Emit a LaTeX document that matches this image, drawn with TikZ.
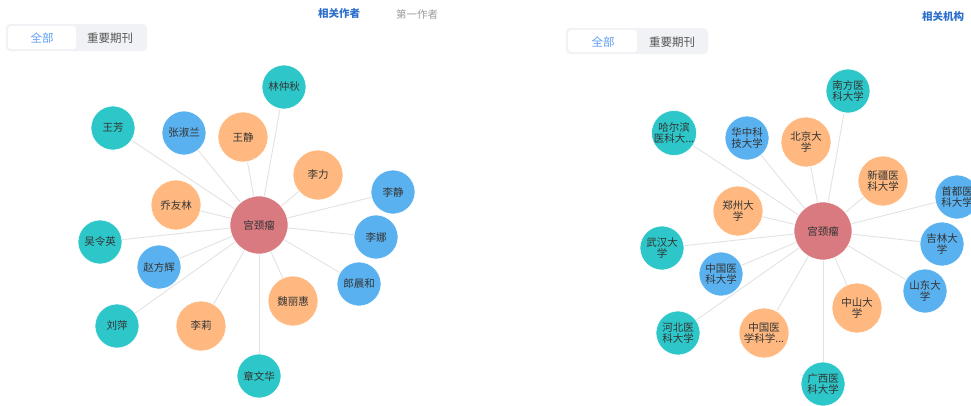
\documentclass[tikz,border=0pt]{standalone}
\usepackage{fontspec}
\setmainfont{Noto Sans CJK SC}
\usetikzlibrary{backgrounds}
\definecolor{cteal}{HTML}{2EC7C9}
\definecolor{cblue}{HTML}{5AB1EF}
\definecolor{corange}{HTML}{FFB980}
\definecolor{cred}{HTML}{D87A80}
\definecolor{cedge}{HTML}{E2E2E2}
\definecolor{ctext}{HTML}{333333}
\definecolor{ctabbg}{HTML}{F0F2F5}
\definecolor{ctabblue}{HTML}{5E9FF2}
\definecolor{ctabgray}{HTML}{555555}
\definecolor{ctitle}{HTML}{2D6FCC}
\definecolor{csub}{HTML}{9A9A9A}
\tikzset{
  bub/.style={circle, inner sep=0pt, draw=white, line width=0.6pt, align=center,
    text=ctext, font=\fontsize{10.5}{10.5}\selectfont},
  tealn/.style={bub, fill=cteal, minimum size=44pt},
  bluen/.style={bub, fill=cblue, minimum size=44pt},
  orangen/.style={bub, fill=corange, minimum size=50pt},
  centern/.style={bub, fill=cred, minimum size=58pt},
  edge/.style={draw=cedge, line width=0.9pt},
  tabouter/.style={fill=ctabbg, rounded corners=4pt},
  tabinner/.style={fill=white, rounded corners=3pt},
  tabon/.style={text=ctabblue, font=\fontsize{11.5}{12}\selectfont, inner sep=0pt},
  taboff/.style={text=ctabgray, font=\fontsize{11.5}{12}\selectfont, inner sep=0pt},
  titleon/.style={text=ctitle, font=\bfseries\fontsize{10.5}{11}\selectfont, inner sep=0pt},
  titleoff/.style={text=csub, font=\fontsize{10.5}{11}\selectfont, inner sep=0pt}
}
\begin{document}
\begin{tikzpicture}[x=1pt,y=-1pt]
\useasboundingbox (0,0) rectangle (971,405);
\clip (0,0) rectangle (971,405);
% header
\node[titleon] (t1) at (339,14) {相关作者};
\node[titleoff] (t2) at (417,14) {第一作者};
\node[titleon] (t3) at (943,17) {相关机构};
% tabs left
\fill[tabouter] (6,24) rectangle (147,51);
\fill[tabinner] (8,26) rectangle (76,49);
\node[tabon] (la) at (42,38) {全部};
\node[taboff] (lb) at (110,38) {重要期刊};
% tabs right
\fill[tabouter] (566,28) rectangle (708,54);
\fill[tabinner] (568,30) rectangle (637,52);
\node[tabon] (ra) at (603,42) {全部};
\node[taboff] (rb) at (672,42) {重要期刊};
% left graph
\node[centern] (L) at (259,225) {宫颈瘤};
\node[tealn] (L1) at (113,128) {王芳};
\node[bluen] (L2) at (184,133) {张淑兰};
\node[orangen] (L3) at (243,137) {王静};
\node[tealn] (L4) at (284,87) {林仲秋};
\node[orangen] (L5) at (318,175) {李力};
\node[bluen] (L6) at (393,192) {李静};
\node[bluen] (L7) at (376,237) {李娜};
\node[bluen] (L8) at (359,284) {郎晨和};
\node[orangen] (L9) at (293,301) {魏丽惠};
\node[tealn] (L10) at (259,376) {章文华};
\node[orangen] (L11) at (201,326) {李莉};
\node[tealn] (L12) at (117,326) {刘萍};
\node[bluen] (L13) at (159,267) {赵方辉};
\node[tealn] (L14) at (100,242) {吴令英};
\node[orangen] (L15) at (176,205) {乔友林};
% right graph
\node[centern] (R) at (823,231) {宫颈瘤};
\node[tealn] (R1) at (848,91) {南方医\\科大学};
\node[orangen] (R2) at (806,142) {北京大\\学};
\node[orangen] (R3) at (883,181) {新疆医\\科大学};
\node[bluen] (R4) at (957,197) {首都医\\科大学};
\node[bluen] (R5) at (747,138) {华中科\\技大学};
\node[tealn] (R6) at (674,133) {哈尔滨\\医科大...};
\node[orangen] (R7) at (738,211) {郑州大\\学};
\node[tealn] (R8) at (662,248) {武汉大\\学};
\node[bluen] (R9) at (721,274) {中国医\\科大学};
\node[tealn] (R10) at (678,333) {河北医\\科大学};
\node[orangen] (R11) at (764,333) {中国医\\学科学...};
\node[tealn] (R12) at (823,384) {广西医\\科大学};
\node[orangen] (R13) at (857,308) {中山大\\学};
\node[bluen] (R14) at (925,291) {山东大\\学};
\node[bluen] (R15) at (942,244) {吉林大\\学};
\begin{scope}[on background layer]
\foreach \i in {1,...,15} {
  \draw[edge] (L) -- (L\i);
  \draw[edge] (R) -- (R\i);
}
\end{scope}
\end{tikzpicture}
\end{document}
